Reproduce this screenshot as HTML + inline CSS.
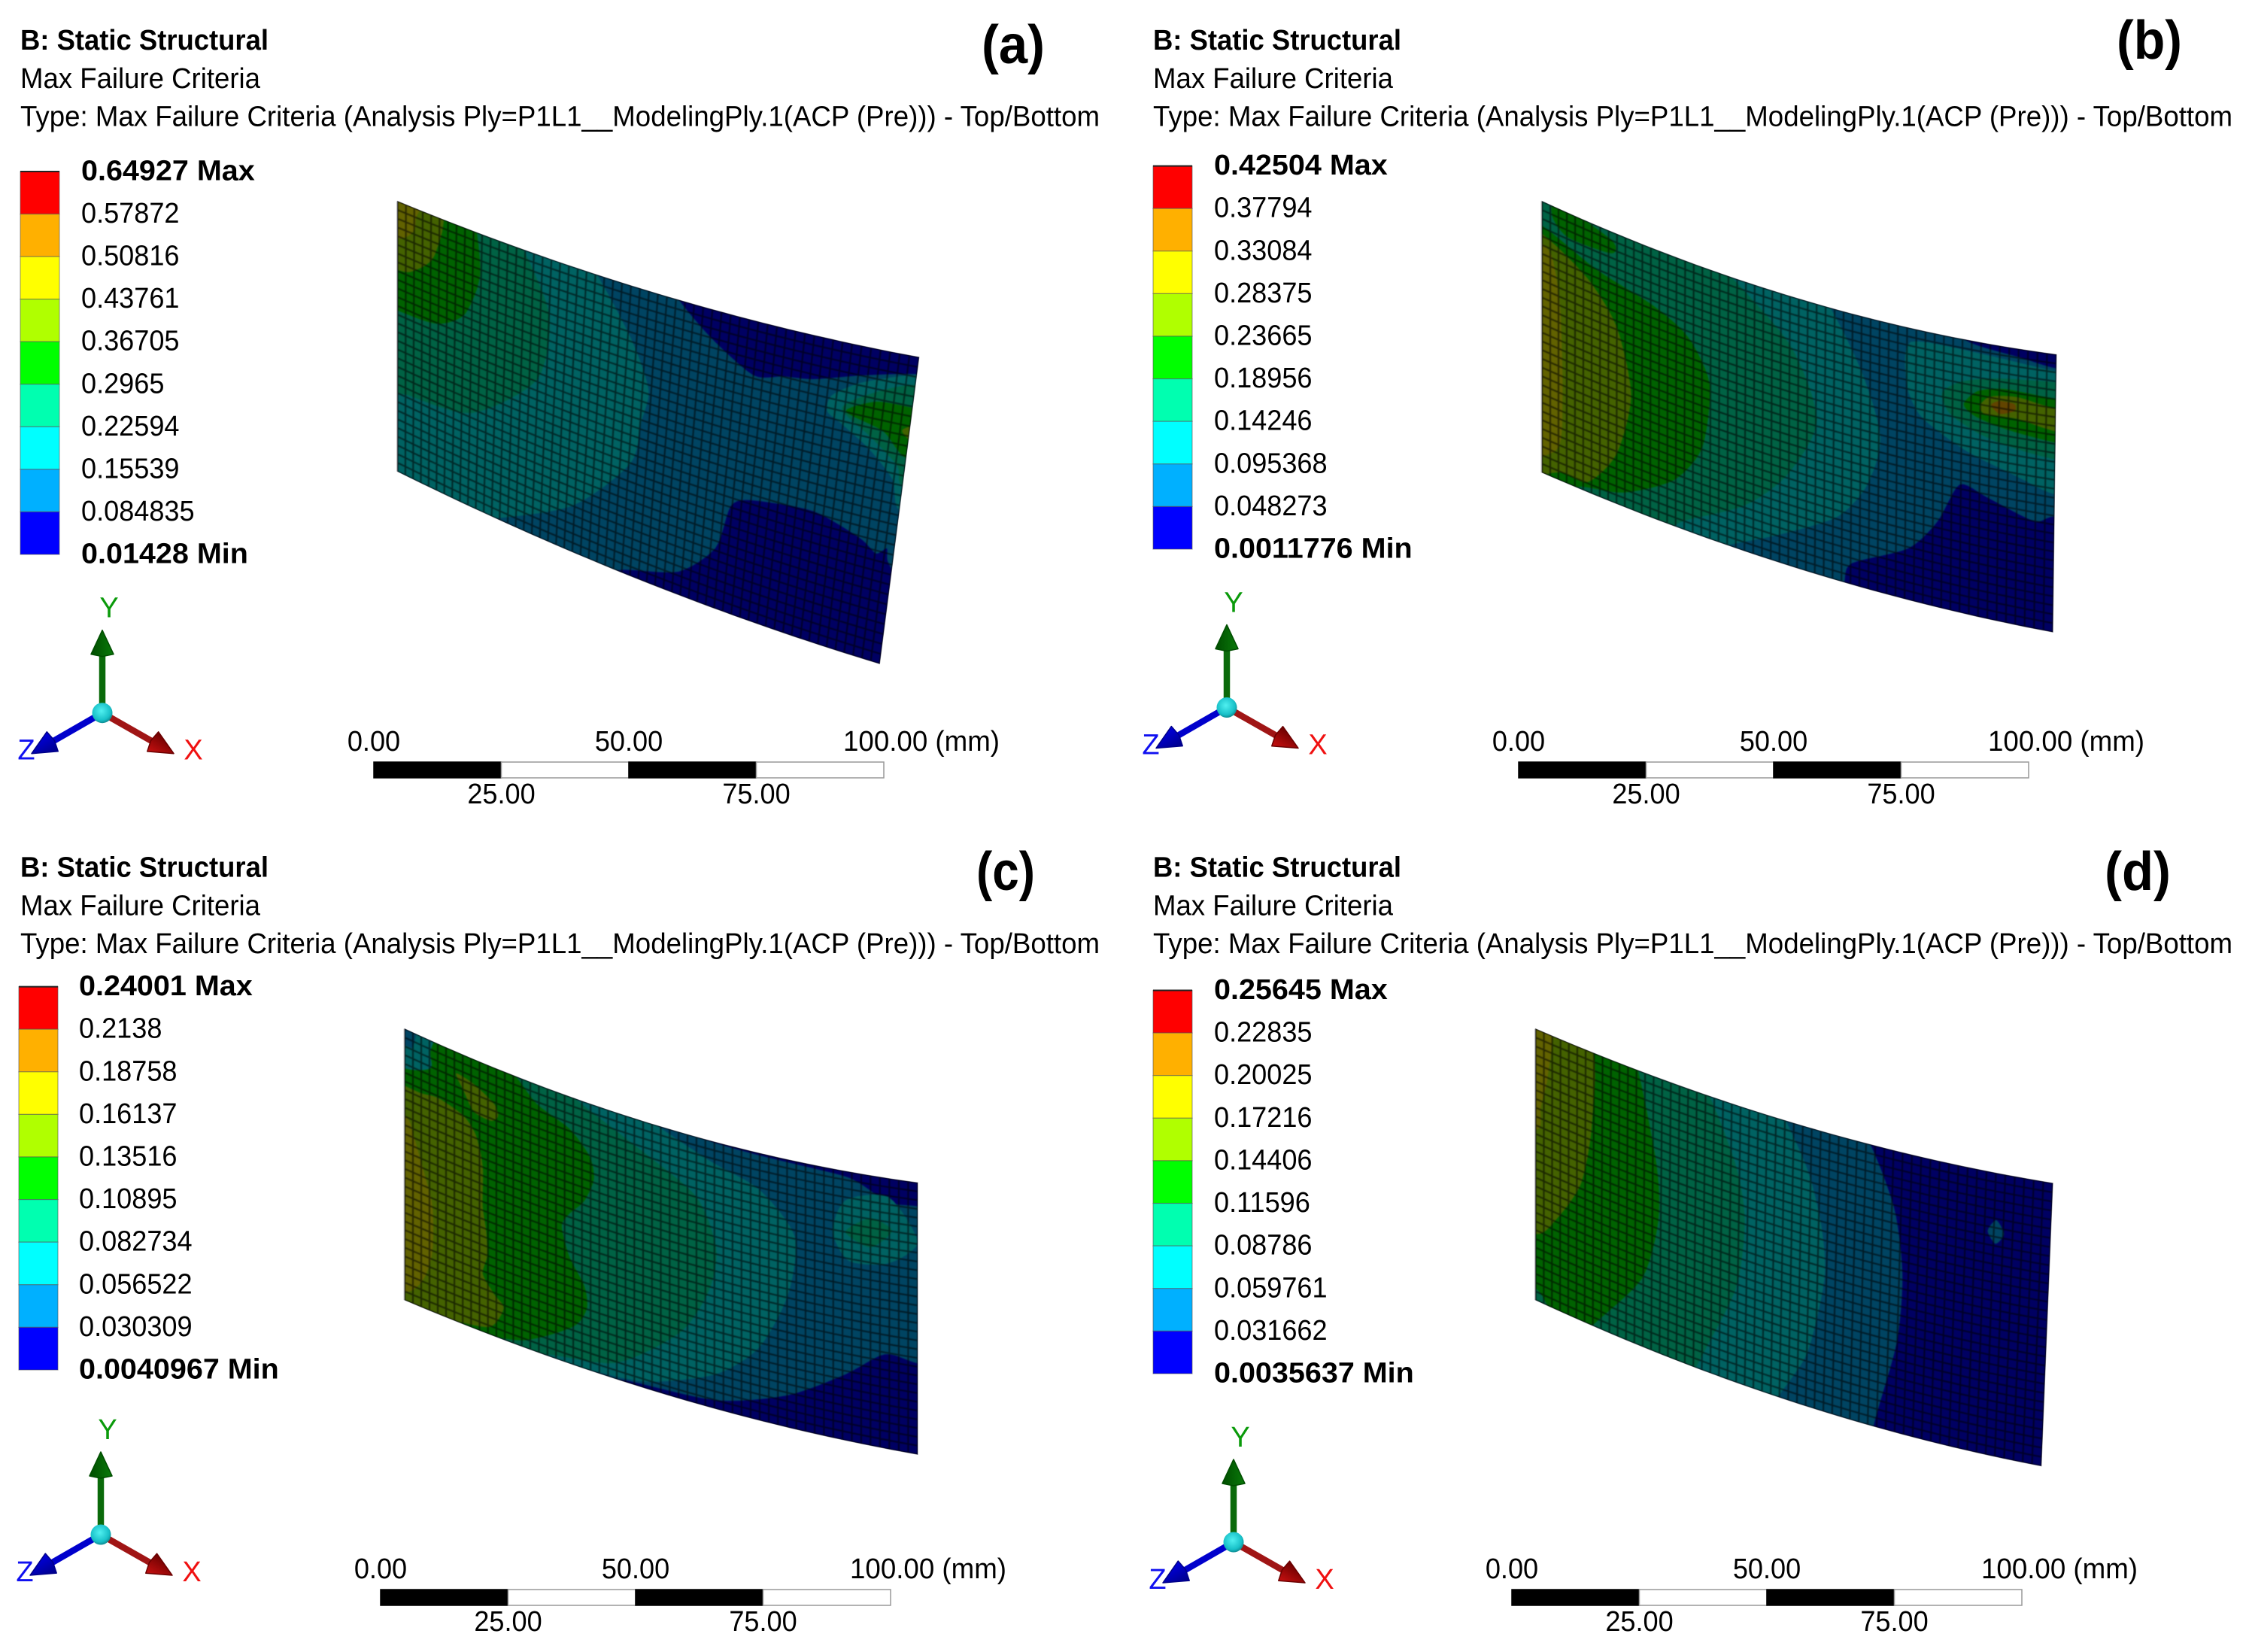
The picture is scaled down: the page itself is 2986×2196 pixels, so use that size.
<!DOCTYPE html>
<html lang="en">
<head>
<meta charset="utf-8">
<title>Max Failure Criteria contour plots</title>
<style>
html,body{margin:0;padding:0;background:#fff;width:2986px;height:2196px;overflow:hidden}
svg{display:block;font-family:"Liberation Sans",sans-serif}
.mesh-soft{filter:blur(.7px)}
</style>
</head>
<body>
<svg id="figure" xmlns="http://www.w3.org/2000/svg" width="2986" height="2196" viewBox="0 0 2986 2196"></svg>
<script>
/* ---------- legend data ---------- */
const legendA = ['0.64927 Max','0.57872','0.50816','0.43761','0.36705','0.2965','0.22594','0.15539','0.084835','0.01428 Min'];
const legendB = ['0.42504 Max','0.37794','0.33084','0.28375','0.23665','0.18956','0.14246','0.095368','0.048273','0.0011776 Min'];
const legendC = ['0.24001 Max','0.2138','0.18758','0.16137','0.13516','0.10895','0.082734','0.056522','0.030309','0.0040967 Min'];
const legendD = ['0.25645 Max','0.22835','0.20025','0.17216','0.14406','0.11596','0.08786','0.059761','0.031662','0.0035637 Min'];
const bandColors = [[0,0,255],[0,176,255],[0,255,255],[0,255,176],[0,255,0],[176,255,0],[255,255,0],[255,176,0],[255,0,0]];
const scaleTopTicks = ['0.00','50.00','100.00 (mm)'];
const scaleBottomTicks = ['25.00','75.00'];
const scaleTopValues = [0,50,100];
const scaleBottomValues = [25,75];
const panelLetters = ['(a)','(b)','(c)','(d)'];

/* ---------- contour data: [band index, outline in plate coordinates u (length) / v (height)] ---------- */
const contoursA = [
 [0,[[.52,-.1],[.529,-.02],[.604,.095],[.692,.183],[.749,.16],[.805,.145],[.896,.096],[1,.055],[1.1,.05],[1.1,-.1]]],
 [0,[[.45,1.1],[.455,1],[.578,.923],[.649,.797],[.672,.639],[.715,.598],[.833,.575],[.93,.62],[.965,.655],[.985,.63],[.99,.67],[1.02,.72],[1.1,.75],[1.1,1.1]]],
 [2,[[.36,-.05],[.453,.18],[.494,.34],[.484,.457],[.468,.615],[.357,.84],[.184,1.02],[.1,1.1],[-.1,1.1],[-.1,-.1],[.3,-.1]]],
 [3,[[.225,-.05],[.295,.195],[.277,.444],[.15,.66],[.02,.7],[-.1,.71],[-.1,-.1],[.2,-.1]]],
 [4,[[.145,-.05],[.16,.15],[.132,.313],[.078,.39],[0,.404],[-.1,.4],[-.1,-.1],[.1,-.1]]],
 [5,[[.08,-.05],[.071,.147],[.031,.233],[0,.254],[-.1,.25],[-.1,-.1]]],
 [6,[[.04,-.05],[.035,.036],[.031,.086],[0,.137],[-.1,.14],[-.1,-.1]]],
 [2,[[1,.058],[.9,.117],[.844,.183],[.839,.238],[.864,.263],[.925,.325],[.979,.407],[1.0,.5],[1.1,.5],[1.1,.05]]],
 [3,[[1,.09],[.922,.144],[.866,.218],[.928,.288],[.985,.36],[1.0,.42],[1.1,.42],[1.1,.09]]],
 [4,[[1,.165],[.93,.17],[.874,.224],[.95,.26],[1,.33],[1.1,.33],[1.1,.165]]],
 [5,[[1.02,.215],[.985,.245],[1.02,.285]]]
];
const contoursB = [
 [0,[[.8,-.1],[.82,0],[.93,.03],[1,.05],[1.1,.05],[1.1,-.1]]],
 [0,[[.585,1.1],[.592,1],[.606,.922],[.717,.81],[.773,.685],[.815,.533],[.87,.56],[.961,.613],[1,.584],[1.1,.58],[1.1,1.1]]],
 [2,[[.54,-.05],[.62,.195],[.66,.43],[.634,.62],[.578,.764],[.467,.894],[.355,1.01],[.3,1.1],[-.1,1.1],[-.1,-.1],[.45,-.1]]],
 [3,[[.33,-.05],[.48,.174],[.536,.43],[.48,.663],[.397,.83],[.272,.975],[.2,1.1],[-.1,1.1],[-.1,-.1],[.25,-.1]]],
 [4,[[-.1,.09],[0,.09],[.104,.162],[.216,.211],[.285,.28],[.327,.427],[.313,.67],[.258,.83],[.16,.948],[.077,.99],[-.1,1.1]]],
 [4,[[.02,.04],[.03,-.02],[.135,.03],[.135,.08],[.05,.09]]],
 [5,[[-.1,.12],[0,.12],[.09,.212],[.146,.347],[.174,.577],[.146,.815],[.09,.963],[.035,.97],[-.1,1.05]]],
 [6,[[-.1,.16],[.005,.16],[.025,.23],[.036,.38],[.04,.7],[.026,.9],[-.1,.98]]],
 [2,[[.717,.05],[.71,.21],[.731,.3],[.76,.343],[.829,.407],[.925,.462],[1,.504],[1.1,.504],[1.1,.06],[1,.06],[.853,.04]]],
 [3,[[1,.1],[.891,.118],[.818,.154],[.779,.211],[.794,.281],[.853,.334],[.925,.363],[1,.378],[1.1,.378],[1.1,.1]]],
 [4,[[1,.16],[.902,.153],[.848,.179],[.821,.236],[.843,.272],[.902,.298],[1,.317],[1.1,.317],[1.1,.16]]],
 [5,[[1,.195],[.925,.175],[.873,.19],[.853,.228],[.862,.258],[.925,.254],[1,.277],[1.1,.277],[1.1,.195]]],
 [7,[[.874,.22],[.891,.2],[.92,.202],[.92,.227],[.891,.247]]]
];
const contoursC = [
 [0,[[.41,1.1],[.412,1],[.607,.968],[.747,.88],[.859,.755],[.936,.652],[1,.665],[1.1,.67],[1.1,1.1]]],
 [0,[[.58,-.05],[.58,0],[.79,.012],[.873,.025],[.943,.088],[1,.087],[1.1,.087],[1.1,-.1]]],
 [2,[[.42,-.05],[.594,.075],[.691,.136],[.761,.283],[.747,.506],[.691,.728],[.607,.87],[.468,.976],[.328,1.01],[.3,1.1],[-.1,1.1],[-.1,-.1],[.3,-.1]]],
 [3,[[.27,-.05],[.44,.093],[.566,.22],[.607,.395],[.594,.559],[.538,.749],[.412,.94],[.272,1],[.25,1.1],[-.1,1.1],[-.1,-.1],[.2,-.1]]],
 [4,[[-.1,-.1],[.17,-.05],[.257,.072],[.321,.12],[.36,.197],[.369,.276],[.35,.372],[.321,.439],[.306,.496],[.321,.6],[.35,.69],[.355,.772],[.328,.858],[.23,.976],[.119,1.02],[-.1,1.1]]],
 [2,[[-.1,-.1],[.06,-.1],[.05,.04],[.05,.103],[0,.146],[-.1,.15]]],
 [1,[[-.1,-.1],[.02,-.1],[.017,.047],[0,.06],[-.1,.07]]],
 [5,[[-.1,.21],[0,.21],[.032,.21],[.066,.2],[.115,.226],[.139,.28],[.152,.384],[.152,.533],[.159,.622],[.161,.711],[.152,.784],[.174,.843],[.193,.882],[.168,.969],[.105,.998],[-.1,1.05]]],
 [5,[[.1,.08],[.135,.092],[.174,.134],[.182,.174],[.169,.202],[.135,.195],[.115,.134]]],
 [6,[[-.1,.32],[0,.32],[.017,.38],[.037,.494],[.054,.61],[.054,.777],[.037,.892],[0,.97],[-.1,.97]]],
 [2,[[.859,.108],[.943,.068],[1,.219],[.943,.314],[.866,.331],[.834,.235]]],
 [3,[[.859,.225],[.908,.158],[.95,.191],[.908,.266]]]
];
const contoursD = [
 [1,[[.63,-.05],[.695,.196],[.716,.431],[.709,.68],[.668,1],[.67,1.1],[-.1,1.1],[-.1,-.1],[.55,-.1]]],
 [2,[[.465,-.05],[.527,.15],[.557,.342],[.565,.526],[.535,.808],[.48,1],[.47,1.1],[-.1,1.1],[-.1,-.1],[.4,-.1]]],
 [3,[[.32,-.05],[.388,.212],[.408,.41],[.392,.668],[.317,1],[.31,1.1],[-.1,1.1],[-.1,-.1],[.25,-.1]]],
 [4,[[.19,-.05],[.235,.313],[.24,.52],[.209,.753],[.112,1],[.08,1.1],[-.1,1.1],[-.1,-.1],[.15,-.1]]],
 [3,[[-.1,.97],[.005,.96],[.035,1.1],[-.1,1.1]]],
 [5,[[.1,-.05],[.11,.249],[.089,.496],[.04,.67],[0,.757],[-.1,.757],[-.1,-.1]]],
 [6,[[.025,-.05],[.024,.15],[.01,.28],[.002,.37],[-.1,.37],[-.1,-.1]]],
 [1,[[.878,.21],[.894,.166],[.91,.21],[.894,.25]]]
];

/* ---------- layout ---------- */
const panels = [
 {id:'a',legend:legendA,contours:contoursA,base:1,
  plate:{tl:[528.6,267.5],tr:[1221.9,474.8],br:[1169.5,882.4],bl:[528.6,626.8],sagT:19.6,sagB:15.4},
  textX:27,textY:66,barX:27,barTop:228,barBottom:737,labelX:108,
  triad:[136,947.7],scaleX:497,scaleY:1013,letterX:1305,letterY:84,letterW:84},
 {id:'b',legend:legendB,contours:contoursB,base:1,
  plate:{tl:[2050.1,267.5],tr:[2734,471.3],br:[2729.2,840.3],bl:[2050.1,628.2],sagT:28,sagB:21},
  textX:1533,textY:66,barX:1533,barTop:220.6,barBottom:730,labelX:1614,
  triad:[1631,940.5],scaleX:2019,scaleY:1013,letterX:2814,letterY:78,letterW:87},
 {id:'c',legend:legendC,contours:contoursC,base:1,
  plate:{tl:[538.1,1367.6],tr:[1220,1572.1],br:[1220,1933.4],bl:[538.1,1728.2],sagT:28,sagB:21},
  textX:27,textY:1165.5,barX:25,barTop:1311.6,barBottom:1821,labelX:105,
  triad:[134,2040],scaleX:506,scaleY:2113,letterX:1298,letterY:1183,letterW:78},
 {id:'d',legend:legendD,contours:contoursD,base:0,
  plate:{tl:[2041.6,1367.6],tr:[2729.2,1572.8],br:[2713.9,1948.8],bl:[2041.6,1728.2],sagT:23,sagB:23},
  textX:1533,textY:1165.5,barX:1533,barTop:1316.5,barBottom:1826,labelX:1614,
  triad:[1640,2050],scaleX:2010,scaleY:2113,letterX:2798,letterY:1183,letterW:88}
];
const MESH_COLS = 58, MESH_ROWS = 31, SCALE_W = 678, SCALE_H = 21, FONT = 38, SHADE = 0.385;

const svg = document.getElementById('figure');
const NS = 'http://www.w3.org/2000/svg';
function add(parent, tag, attrs, txt){
  const e = document.createElementNS(NS, tag);
  for (const k in attrs) e.setAttribute(k, attrs[k]);
  if (txt !== undefined) e.textContent = txt;
  parent.appendChild(e);
  return e;
}
function fit(e, k){
  e.setAttribute('textLength', (e.getComputedTextLength()*k).toFixed(1));
  e.setAttribute('lengthAdjust', 'spacingAndGlyphs');
}
function setLen(e, w){
  e.setAttribute('textLength', w);
  e.setAttribute('lengthAdjust', 'spacingAndGlyphs');
}
function plateFn(p){
  return function(u, v){
    const tx = p.tl[0] + (p.tr[0]-p.tl[0])*u;
    const ty = p.tl[1] + (p.tr[1]-p.tl[1])*u + 4*p.sagT*u*(1-u);
    const bx = p.bl[0] + (p.br[0]-p.bl[0])*u;
    const by = p.bl[1] + (p.br[1]-p.bl[1])*u + 4*p.sagB*u*(1-u);
    return [tx+(bx-tx)*v, ty+(by-ty)*v];
  };
}
function shade(c){
  return 'rgb(' + c.map(function(x){return Math.round(x*SHADE);}).join(',') + ')';
}
function meshU(t){
  return .928*t + .072*t*t;
}
function smoothOutline(pts, S){
  const n = pts.length, out = [];
  for (let i=0;i<n;i++){
    const p0=pts[(i-1+n)%n], p1=pts[i], p2=pts[(i+1)%n], p3=pts[(i+2)%n];
    const c1=[p1[0]+(p2[0]-p0[0])/8, p1[1]+(p2[1]-p0[1])/8];
    const c2=[p2[0]-(p3[0]-p1[0])/8, p2[1]-(p3[1]-p1[1])/8];
    for (let t=0;t<6;t++){
      const s=t/6, r=1-s;
      const u=r*r*r*p1[0]+3*r*r*s*c1[0]+3*r*s*s*c2[0]+s*s*s*p2[0];
      const v=r*r*r*p1[1]+3*r*r*s*c1[1]+3*r*s*s*c2[1]+s*s*s*p2[1];
      const q=S(u,v);
      out.push(q[0].toFixed(1)+' '+q[1].toFixed(1));
    }
  }
  return 'M'+out.join('L')+'Z';
}
function drawPlate(g, P){
  const S = plateFn(P.plate);
  let outline = '';
  for (let i=0;i<=40;i++){ const q=S(i/40,0); outline += (i?'L':'M')+q[0].toFixed(1)+' '+q[1].toFixed(1); }
  for (let i=40;i>=0;i--){ const q=S(i/40,1); outline += 'L'+q[0].toFixed(1)+' '+q[1].toFixed(1); }
  outline += 'Z';
  const clip = add(g,'clipPath',{id:'clip-'+P.id});
  add(clip,'path',{d:outline});
  const body = add(g,'g',{'clip-path':'url(#clip-'+P.id+')'});
  
  
  const soft = add(body,'g',{'class':'mesh-soft'});
  const base = add(soft,'path',{d:'M'+(P.plate.tl[0]-40)+' '+(P.plate.tl[1]-60)+'H'+(P.plate.tr[0]+40)+'V'+(Math.max(P.plate.br[1],P.plate.bl[1])+60)+'H'+(P.plate.tl[0]-40)+'Z',fill:shade(bandColors[P.base])});
  
  
  P.contours.forEach(function(c){
    const r = add(soft,'path',{d:smoothOutline(c[1],S),fill:shade(bandColors[c[0]])});
    
    
  });
  let d = '';
  for (let i=0;i<=MESH_COLS;i++){
    const u=meshU(i/MESH_COLS);
    const a=S(u,0), b=S(u,1);
    d += 'M'+a[0].toFixed(1)+' '+a[1].toFixed(1)+'L'+b[0].toFixed(1)+' '+b[1].toFixed(1);
  }
  for (let j=0;j<=MESH_ROWS;j++){
    for (let i=0;i<=MESH_COLS;i+=2){
      const q=S(i/MESH_COLS,j/MESH_ROWS);
      d += (i?'L':'M')+q[0].toFixed(1)+' '+q[1].toFixed(1);
    }
  }
  const mesh = add(soft,'path',{d:d,fill:'none',stroke:'#000','stroke-opacity':.6,'stroke-width':2});
  
  
  const a=S(0,0), b=S(0,1);
  add(g,'line',{x1:a[0]-.8,y1:a[1],x2:b[0]-.8,y2:b[1],stroke:'#b8b8b8','stroke-width':1.4});
  add(g,'path',{d:outline,fill:'none',stroke:'#1a1a2a','stroke-width':1,'stroke-opacity':.5});
}
function drawHeader(g, P){
  const t1 = add(g,'text',{x:P.textX,y:P.textY,'font-size':FONT,'font-weight':'bold',fill:'#000'},'B: Static Structural');
  
  
  setLen(t1,330);
  const t2 = add(g,'text',{x:P.textX,y:P.textY+51,'font-size':FONT,fill:'#000'},'Max Failure Criteria');
  
  
  setLen(t2,319);
  const t3 = add(g,'text',{x:P.textX,y:P.textY+101.5,'font-size':FONT,fill:'#000'},'Type: Max Failure Criteria (Analysis Ply=P1L1__ModelingPly.1(ACP (Pre))) - Top/Bottom');
  
  
  setLen(t3,1435);
}
function drawLetter(g, P, i){
  const t = add(g,'text',{x:P.letterX,y:P.letterY,'font-size':72,'font-weight':'bold',fill:'#000'},panelLetters[i]);
  
  
  setLen(t,P.letterW);
}
function drawLegend(g, P){
  const step = (P.barBottom-P.barTop)/9;
  for (let i=0;i<9;i++){
    const rgb = bandColors[8-i];
    const r = add(g,'rect',{x:P.barX,y:P.barTop+i*step,width:52,height:step,fill:'rgb('+rgb.join(',')+')',stroke:'#555','stroke-opacity':.55,'stroke-width':1.2});
    
    
  }
  add(g,'line',{x1:P.barX,x2:P.barX+52,y1:P.barTop,y2:P.barTop,stroke:'#222','stroke-width':2});
  P.legend.forEach(function(label,i){
    const bold = (i===0||i===P.legend.length-1);
    const t = add(g,'text',{x:P.labelX,y:P.barTop+i*step+11.5,'font-size':FONT,'font-weight':bold?'bold':'normal',fill:'#000'},label);
    
    
    fit(t,bold?1.04:.95);
  });
}
function arrow(g, cx, cy, tx, ty, shaftColor, headColor, headDark){
  const dx=tx-cx, dy=ty-cy, L=Math.hypot(dx,dy), ux=dx/L, uy=dy/L, nx=-uy, ny=ux;
  const bx=tx-ux*32, by=ty-uy*32, gid='grad'+Math.round(tx)+'-'+Math.round(ty);
  const defs=add(g,'linearGradient',{id:gid,gradientUnits:'userSpaceOnUse',x1:bx+nx*15,y1:by+ny*15,x2:bx-nx*15,y2:by-ny*15});
  add(defs,'stop',{offset:0,'stop-color':headColor});
  add(defs,'stop',{offset:1,'stop-color':headDark});
  add(g,'line',{x1:cx,y1:cy,x2:bx,y2:by,stroke:shaftColor,'stroke-width':8.5});
  add(g,'polygon',{points:[tx,ty,bx+nx*15,by+ny*15,bx-ux*3,by-uy*3,bx-nx*15,by-ny*15].join(' '),fill:'url(#'+gid+')','stroke-linejoin':'round',stroke:headDark,'stroke-width':1.5});
}
function drawTriad(g, P){
  const c = P.triad;
  const tg = add(g,'g',{});
  
  
  arrow(tg,c[0],c[1],c[0],c[1]-110,'#0a6a0a','#0a7a0a','#004d00');
  arrow(tg,c[0],c[1],c[0]+95,c[1]+54,'#a01515','#c81010','#6a0000');
  arrow(tg,c[0],c[1],c[0]-94,c[1]+54,'#0000cc','#0000dd','#000088');
  const sid='sphere-'+P.id;
  const rg=add(tg,'radialGradient',{id:sid,cx:.45,cy:.4,r:.65});
  add(rg,'stop',{offset:0,'stop-color':'#50f0f0'});
  add(rg,'stop',{offset:.7,'stop-color':'#18c0c8'});
  add(rg,'stop',{offset:1,'stop-color':'#0a7a80'});
  add(tg,'circle',{cx:c[0],cy:c[1],r:13.5,fill:'url(#'+sid+')'});
  const y = add(tg,'text',{x:c[0]+9,y:c[1]-127,'font-size':FONT,'text-anchor':'middle',fill:'#0a9a0a'},'Y');
  
  
  const x = add(tg,'text',{x:c[0]+121,y:c[1]+62,'font-size':FONT,'text-anchor':'middle',fill:'#f01010'},'X');
  
  
  const z = add(tg,'text',{x:c[0]-101,y:c[1]+62,'font-size':FONT,'text-anchor':'middle',fill:'#1010f0'},'Z');
  
  
}
function drawScale(g, P){
  const x0=P.scaleX, y0=P.scaleY, seg=SCALE_W/4;
  const mm = function(v){ return x0 + v/100*SCALE_W; };
  for (let i=0;i<4;i++){
    const r = add(g,'rect',{x:x0+i*seg,y:y0,width:seg,height:SCALE_H,fill:i%2?'#fff':'#000',stroke:i%2?'#999':'#000','stroke-width':1.5});
    
    
  }
  scaleTopTicks.forEach(function(label,i){
    const isMM = label.indexOf('mm')>=0;
    const t = add(g,'text',{x:isMM?mm(scaleTopValues[i])-54:mm(scaleTopValues[i]),y:y0-15,'font-size':FONT,'text-anchor':isMM?'start':'middle',fill:'#000'},label);
    
    
    if (isMM) setLen(t,208); else fit(t,.95);
  });
  scaleBottomTicks.forEach(function(label,i){
    const t = add(g,'text',{x:mm(scaleBottomValues[i]),y:y0+55,'font-size':FONT,'text-anchor':'middle',fill:'#000'},label);
    
    
    fit(t,.95);
  });
}
panels.forEach(function(P,i){
  const g = add(svg,'g',{});
  
  
  drawHeader(g,P);
  drawLetter(g,P,i);
  drawLegend(g,P);
  drawPlate(g,P);
  drawTriad(g,P);
  drawScale(g,P);
});
</script>
</body>
</html>
